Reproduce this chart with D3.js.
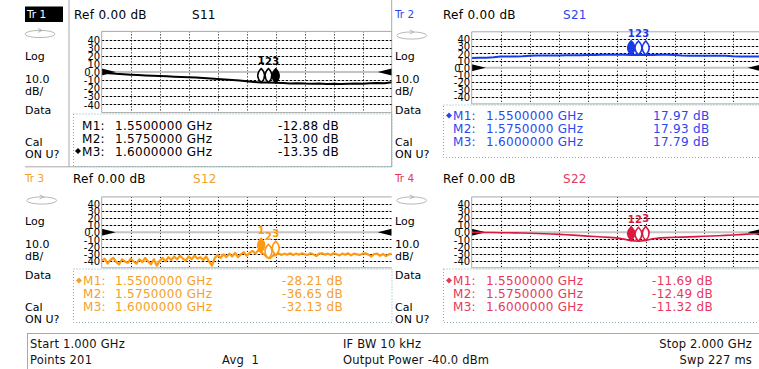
<!DOCTYPE html>
<html><head><meta charset="utf-8">
<script src="https://cdn.jsdelivr.net/npm/d3@7"></script>
<style>body{margin:0;background:#fff}svg{display:block}text{font-family:"DejaVu Sans",sans-serif}</style>
</head><body><svg id="c" width="759" height="369"></svg>
<script>
// ---------------- data ----------------
const yTicks = [40, 30, 20, 10, 0, -10, -20, -30, -40];
const xGrid = [1.1, 1.2, 1.3, 1.4, 1.5, 1.6, 1.7, 1.8, 1.9];
const freq41 = [1.000,1.025,1.050,1.075,1.100,1.125,1.150,1.175,1.200,1.225,1.250,1.275,1.300,1.325,1.350,1.375,1.400,1.425,1.450,1.475,1.500,1.525,1.550,1.575,1.600,1.625,1.650,1.675,1.700,1.725,1.750,1.775,1.800,1.825,1.850,1.875,1.900,1.925,1.950,1.975,2.000];
const s11 = [-0.5,-1.5,-2.3,-2.9,-3.4,-3.8,-4.2,-4.6,-5.0,-5.3,-5.7,-6.1,-6.5,-6.9,-7.4,-7.9,-8.5,-9.1,-9.8,-10.6,-11.4,-12.2,-12.88,-13.00,-13.35,-13.6,-14.1,-13.8,-14.3,-14.6,-14.2,-14.7,-14.4,-14.9,-14.5,-14.2,-14.6,-14.0,-13.6,-13.9,-12.5];
const s21 = [13.8,14.0,14.1,14.6,15.6,15.7,15.8,16.0,16.9,17.0,17.1,17.2,17.3,17.4,17.5,17.6,17.8,17.9,18.2,18.2,18.1,18.0,17.97,17.93,17.79,17.9,18.0,18.0,17.9,17.0,16.9,16.9,16.8,16.8,16.7,16.7,16.0,15.9,15.9,15.8,15.8];
const s22 = [0.2,0.0,-0.2,-0.3,-0.5,-0.6,-0.8,-1.0,-1.3,-1.6,-2.0,-2.4,-2.8,-3.3,-3.9,-4.6,-5.3,-5.9,-6.5,-7.1,-7.8,-9.6,-11.69,-12.49,-11.32,-9.0,-7.8,-7.4,-7.0,-6.7,-6.4,-6.0,-5.6,-5.2,-4.8,-4.3,-3.8,-3.2,-2.5,-2.0,-1.5];
const freq101 = [1.00,1.01,1.02,1.03,1.04,1.05,1.06,1.07,1.08,1.09,1.10,1.11,1.12,1.13,1.14,1.15,1.16,1.17,1.18,1.19,1.20,1.21,1.22,1.23,1.24,1.25,1.26,1.27,1.28,1.29,1.30,1.31,1.32,1.33,1.34,1.35,1.36,1.37,1.38,1.39,1.40,1.41,1.42,1.43,1.44,1.45,1.46,1.47,1.48,1.49,1.50,1.51,1.52,1.53,1.54,1.55,1.56,1.57,1.58,1.59,1.60,1.61,1.62,1.63,1.64,1.65,1.66,1.67,1.68,1.69,1.70,1.71,1.72,1.73,1.74,1.75,1.76,1.77,1.78,1.79,1.80,1.81,1.82,1.83,1.84,1.85,1.86,1.87,1.88,1.89,1.90,1.91,1.92,1.93,1.94,1.95,1.96,1.97,1.98,1.99,2.00];
const s12 = [-40,-37,-44,-39,-36,-42,-45,-38,-41,-43,
  -37,-41,-44,-38,-42,-36,-41,-45,-38,-47,
  -40,-36,-41,-35,-39,-34,-38,-33,-37,-40,
  -34,-38,-33,-37,-35,-39,-34,-41,-47,-36,
  -32,-36,-31,-35,-30,-34,-29,-35,-31,-28,
  -33,-29,-26,-30,-25,-28.2,-31,-35,-36.5,-33,
  -32.1,-29.5,-32,-30,-31.5,-29.5,-32,-30,-31.5,-29.5,
  -31,-32,-29.5,-31,-33.5,-30,-29.5,-31.5,-30,-32,
  -29.5,-31,-32.5,-30,-31.5,-29.5,-32.5,-30,-31,-32,
  -30,-29.5,-31.5,-34,-30.5,-30,-33,-30.5,-33.5,-31,
  -30];
const markerFreqs = [1.55, 1.575, 1.6];
const markerNames = ["M1:", "M2:", "M3:"];
const markerFreqText = ["1.5500000 GHz", "1.5750000 GHz", "1.6000000 GHz"];
const s11Markers = [-12.88, -13.00, -13.35];
const s21Markers = [17.97, 17.93, 17.79];
const s12Markers = [-28.21, -36.65, -32.13];
const s22Markers = [-11.69, -12.49, -11.32];
const sideLabels = ["Log", "10.0", "dB/", "Data", "Cal", "ON U?"];
const statusTexts = [
  {t: "Start 1.000 GHz", col: 0, row: 0}, {t: "Points 201", col: 0, row: 1},
  {t: "Avg  1", col: 1, row: 1},
  {t: "IF BW 10 kHz", col: 2, row: 0}, {t: "Output Power -40.0 dBm", col: 2, row: 1},
  {t: "Stop 2.000 GHz", col: 3, row: 0}, {t: "Swp 227 ms", col: 3, row: 1}
];

// ---------------- layout ----------------
const svg = d3.select("#c");
const panels = [
  {id: 1, name: "Tr 1", param: "S11", freqs: freq41, vals: s11, mk: s11Markers, active: 2,
   color: "#000", trace: "#000", tw: 2, sx: 25, gx: 101.7, gt: 31.4, gb: 112.6, cw: 290,
   hy: 18.5, refX: 74, pX: 192, box: [73, 113.5, 391.5, 166], rows: [129.5, 142.5, 155.5],
   mX: 82, fX: 115, vX: 278, side: [60, 83, 95, 114, 146, 158], trY: 18, ell: [40, 34]},
  {id: 2, name: "Tr 2", param: "S21", freqs: freq41, vals: s21, mk: s21Markers, active: 0,
   color: "#2a48f0", trace: "#1a3ae8", tw: 2, sx: 395, gx: 471.7, gt: 31.8, gb: 103.9, cw: 290,
   hy: 18.5, refX: 443, pX: 563, box: [443, 104.5, 762, 157], rows: [120, 133, 146],
   mX: 453, fX: 486, vX: 653, side: [60, 83, 95, 114, 146, 158], trY: 17.5, ell: [411.7, 35.5]},
  {id: 3, name: "Tr 3", param: "S12", freqs: freq101, vals: s12, mk: s12Markers, active: 0,
   color: "#f5a02a", trace: "#ff9a10", tw: 2.2, sx: 25, gx: 101.7, gt: 196.9, gb: 267.8, cw: 290,
   hy: 183.3, refX: 73, pX: 193, box: [73, 268.5, 391.5, 322], rows: [285, 298, 311],
   mX: 83, fX: 115, vX: 282, side: [224.5, 248, 260, 278.5, 311, 323], trY: 182, ell: [41.7, 200.5]},
  {id: 4, name: "Tr 4", param: "S22", freqs: freq41, vals: s22, mk: s22Markers, active: 0,
   color: "#e8385a", trace: "#dc1840", tw: 1.6, sx: 395, gx: 471.7, gt: 196.9, gb: 267.8, cw: 290,
   hy: 183.3, refX: 443, pX: 563, box: [443, 268.5, 762, 322], rows: [285, 298, 311],
   mX: 453, fX: 486, vX: 652, side: [224.5, 248, 260, 278.5, 311, 323], trY: 182, ell: [411.7, 200.5]}
];

// active window frame (Tr 1)
svg.append("line").attr("x1", 69).attr("x2", 69).attr("y1", 0).attr("y2", 167).attr("stroke", "#a8a8a8");
svg.append("line").attr("x1", 391.7).attr("x2", 391.7).attr("y1", 0).attr("y2", 167).attr("stroke", "#a8a8a8");
svg.append("line").attr("x1", 25).attr("x2", 391.7).attr("y1", 166.8).attr("y2", 166.8).attr("stroke", "#a8a8a8");

function lens(cx, cy) {
  return `M${cx},${cy - 14} Q${cx + 7},${cy - 7} ${cx},${cy} Q${cx - 7},${cy - 7} ${cx},${cy - 14} Z`;
}

panels.forEach(p => {
  const g = svg.append("g");
  const x = d3.scaleLinear().domain([1, 2]).range([p.gx, p.gx + p.cw]);
  const y = d3.scaleLinear().domain([-50, 50]).range([p.gb, p.gt]);
  const x1 = p.gx + p.cw;

  // side labels
  if (p.id === 1) {
    g.append("rect").attr("x", 25).attr("y", 6.5).attr("width", 38).attr("height", 15.5).attr("fill", "#000");
    g.append("text").attr("x", 27).attr("y", p.trY).attr("fill", "#fff").attr("font-size", 10.5).text(p.name);
  } else {
    g.append("text").attr("x", p.sx).attr("y", p.trY).attr("fill", p.color).attr("font-size", 10.5).text(p.name);
  }
  // ellipse icon
  g.append("ellipse").attr("cx", p.ell[0]).attr("cy", p.ell[1]).attr("rx", 15).attr("ry", 3.6)
    .attr("fill", "none").attr("stroke", "#a4a4a4").attr("stroke-width", 0.8);
  g.append("path").attr("d", `M${p.ell[0] - 2},${p.ell[1] - 5.6} L${p.ell[0] + 2},${p.ell[1] - 3.6} L${p.ell[0] - 2},${p.ell[1] - 1.6}`)
    .attr("fill", "none").attr("stroke", "#a4a4a4").attr("stroke-width", 0.8);
  sideLabels.forEach((s, i) => {
    g.append("text").attr("x", p.sx).attr("y", p.side[i]).attr("fill", "#000").attr("font-size", 11).text(s);
  });

  // header
  g.append("text").attr("x", p.refX).attr("y", p.hy).attr("font-size", 12).attr("letter-spacing", 0.3).attr("fill", "#000").text("Ref 0.00 dB");
  g.append("text").attr("x", p.pX).attr("y", p.hy).attr("font-size", 12).attr("letter-spacing", 0.3).attr("fill", p.color).text(p.param);

  // grid
  const clipId = "clip" + p.id;
  svg.append("clipPath").attr("id", clipId).append("rect")
    .attr("x", p.gx).attr("y", p.gt).attr("width", Math.min(p.cw, 759 - p.gx)).attr("height", p.gb - p.gt);
  const grid = g.append("g").attr("clip-path", `url(#${clipId})`);
  grid.selectAll("line.h").data(yTicks.filter(d => d !== 0)).join("line")
    .attr("x1", p.gx).attr("x2", x1).attr("y1", d => Math.round(y(d)) + 0.5).attr("y2", d => Math.round(y(d)) + 0.5)
    .attr("stroke", "#000").attr("stroke-width", 1).attr("stroke-dasharray", "2.5,1.5");
  grid.selectAll("line.v").data(xGrid).join("line")
    .attr("x1", d => Math.round(x(d)) + 0.5).attr("x2", d => Math.round(x(d)) + 0.5).attr("y1", p.gt).attr("y2", p.gb)
    .attr("stroke", "#000").attr("stroke-width", 1).attr("stroke-dasharray", "1,2");
  grid.append("line").attr("x1", p.gx).attr("x2", x1).attr("y1", y(0)).attr("y2", y(0))
    .attr("stroke", "#c4c4c4").attr("stroke-width", 2);
  // border
  g.append("path").attr("d", `M${x1},${p.gt} H${p.gx} V${p.gb} H${x1}`).attr("fill", "none").attr("stroke", "#a8a8a8").attr("stroke-width", 1);

  // y tick labels
  const ax = g.append("g").attr("transform", `translate(${p.gx - 1.5},0)`)
    .call(d3.axisLeft(y).tickValues(yTicks).tickSize(0).tickPadding(0).tickFormat(d => d === 0 ? "0.0" : String(d)));
  ax.select(".domain").remove();
  ax.attr("font-family", "DejaVu Sans").attr("font-size", 10);
  ax.selectAll("text").attr("fill", "#000").attr("dy", "0.36em");

  // reference triangles
  const y0 = y(0);
  grid.append("path").attr("d", `M${p.gx},${y0 - 3.5} L${p.gx + 14},${y0} L${p.gx},${y0 + 3.5} Z`).attr("fill", "#000");
  grid.append("path").attr("d", `M${x1},${y0 - 3.5} L${x1 - 14},${y0} L${x1},${y0 + 3.5} Z`).attr("fill", "#000");

  // trace
  const line = d3.line().x((d, i) => x(p.freqs[i])).y(d => y(d));
  grid.append("path").datum(p.vals).attr("d", line).attr("fill", "none")
    .attr("stroke", p.trace).attr("stroke-width", p.tw).attr("stroke-linejoin", "round");

  // markers
  markerFreqs.forEach((f, i) => {
    const cx = x(f), cy = y(p.mk[i]);
    g.append("path").attr("d", lens(cx, cy))
      .attr("fill", i === p.active ? p.trace : "#fff").attr("stroke", p.trace).attr("stroke-width", 1.5);
    g.append("text").attr("x", cx).attr("y", cy - 18).attr("text-anchor", "middle")
      .attr("font-size", 10).attr("font-weight", "bold").attr("fill", p.trace).text(String(i + 1));
  });

  // readout box
  const b = p.box;
  g.append("rect").attr("x", b[0] + 0.5).attr("y", b[1] + 0.5).attr("width", b[2] - b[0]).attr("height", b[3] - b[1])
    .attr("fill", "none").attr("stroke", "#7fb2b4").attr("stroke-width", 1).attr("stroke-dasharray", "1,2");
  markerNames.forEach((m, i) => {
    const ry = p.rows[i];
    if (i === p.active) {
      g.append("path").attr("d", `M${p.mX - 7},${ry - 4.5} l3,-3 l3,3 l-3,3 Z`).attr("fill", p.color);
    }
    g.append("text").attr("x", p.mX).attr("y", ry).attr("font-size", 12).attr("letter-spacing", 0.3).attr("fill", p.color).text(m);
    g.append("text").attr("x", p.fX).attr("y", ry).attr("font-size", 12).attr("letter-spacing", 0.3).attr("fill", p.color).text(markerFreqText[i]);
    g.append("text").attr("x", p.vX).attr("y", ry).attr("font-size", 12).attr("letter-spacing", 0.3).attr("fill", p.color)
      .text(p.mk[i].toFixed(2) + " dB");
  });
});

// status bar
svg.append("line").attr("x1", 27).attr("x2", 759).attr("y1", 333.5).attr("y2", 333.5).attr("stroke", "#a8a8a8");
svg.append("line").attr("x1", 27.5).attr("x2", 27.5).attr("y1", 333.5).attr("y2", 369).attr("stroke", "#a8a8a8");
const colX = [30, 222, 343, 752];
const rowY = [348, 364];
svg.selectAll("text.status").data(statusTexts).join("text")
  .attr("x", d => colX[d.col]).attr("y", d => rowY[d.row])
  .attr("text-anchor", d => d.col === 3 ? "end" : "start")
  .attr("font-size", 11.5).attr("letter-spacing", 0.2).attr("fill", "#111")
  .attr("xml:space", "preserve").style("white-space", "pre").text(d => d.t);
</script></body></html>
